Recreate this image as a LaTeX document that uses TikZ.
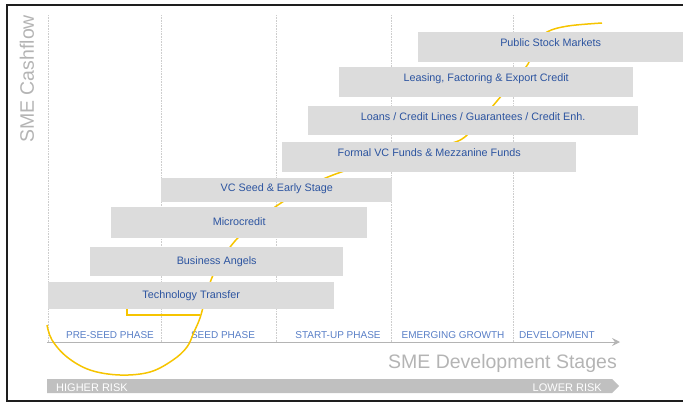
\documentclass[tikz,border=0pt]{standalone}
\usepackage{fontspec}
\setmainfont{Liberation Sans}
\usetikzlibrary{arrows.meta}
\definecolor{boxgray}{RGB}{220,220,220}
\definecolor{txtblue}{RGB}{44,84,160}
\definecolor{phblue}{RGB}{88,126,198}
\definecolor{axgray}{RGB}{180,180,180}
\definecolor{gold}{RGB}{246,196,0}
\definecolor{riskgray}{RGB}{192,192,192}
\definecolor{gridgray}{RGB}{205,205,205}
\definecolor{framegray}{RGB}{30,30,30}
\tikzset{
  fin/.style={fill=boxgray, draw=none, inner sep=0pt, text=txtblue,
    font=\fontsize{10.8}{12}\selectfont, anchor=north west,
    text height=7pt, text depth=2pt},
  finmid/.style={fin, text height=5.4pt, text depth=3.6pt},
  finhi/.style={fin, text height=3.9pt, text depth=5.1pt},
  phase/.style={text=phblue, font=\fontsize{10}{12}\selectfont, anchor=base, inner sep=0pt},
  biglab/.style={text=axgray, font=\fontsize{19.5}{22}\selectfont, inner sep=0pt},
  risklab/.style={text=white, font=\fontsize{11}{12}\selectfont, inner sep=0pt},
  grid/.style={gridgray, line width=0.6pt, dash pattern=on 0.8pt off 0.8pt},
  curve/.style={gold, line width=1.5pt},
}
\begin{document}
\begin{tikzpicture}[x=1pt,y=-1pt]
\useasboundingbox (0,0) rectangle (683,402);
% frame
\draw[framegray, line width=2pt] (690,5) -- (7,5) -- (7,401) -- (690,401);
% grid lines
\foreach \gx in {48,161,276,391,513}
  \draw[grid] (\gx,15) -- (\gx,342);
% axis
\coordinate (axs) at (47,342);
\coordinate (axe) at (620,342);
\draw[axgray, line width=0.8pt, -{Stealth[length=8pt,width=8pt,inset=3pt]}] (axs) -- (axe);
% risk bar
\fill[riskgray] (47,379) -- (612,379) -- (619,386) -- (612,393) -- (47,393) -- cycle;
\node[risklab, anchor=base west] (hr) at (56,391) {HIGHER RISK};
\node[risklab, anchor=base east] (lr) at (602,391) {LOWER RISK};
% axis labels
\node[biglab, anchor=base east] (xlab) at (617,368) {SME Development Stages};
\node[biglab, anchor=base west, rotate=90] (ylab) at (34,143) {SME Cashflow};
% phase labels
\node[phase] (p1) at (110,338) {PRE-SEED PHASE};
\node[phase] (p2) at (223,338) {SEED PHASE};
\node[phase] (p3) at (338,338) {START-UP PHASE};
\node[phase] (p4) at (453,338) {EMERGING GROWTH};
\node[phase] (p5) at (557,338) {DEVELOPMENT};
% yellow curve
\draw[curve] plot[smooth, tension=0.6] coordinates {
 (47,325) (52,340) (67,357) (90,370) (120,375) (150,372) (173,360) (187,347)
 (194,332) (200,318) (205,300) (211,280) (220,262) (235,241) (255,222)
 (278,205) (305,188) (333,175) (370,163) (410,153) (440,146) (462,139)
 (480,121) (497,101) (512,83) (528,64) (536,44) (547,32) (568,26) (602,23)};
\draw[curve] (127,309) -- (127,315) -- (200,315);
% financing boxes
\node[fin, minimum width=286pt, minimum height=27pt] (tt) at (48,282) {Technology Transfer};
\node[fin, minimum width=253pt, minimum height=29pt] (ba) at (90,247) {Business Angels};
\node[fin, minimum width=256pt, minimum height=31pt] (mc) at (111,207) {Microcredit};
\node[finmid, minimum width=231pt, minimum height=24pt] (vc) at (161,178) {VC Seed \& Early Stage};
\node[finhi, minimum width=294pt, minimum height=30pt] (fv) at (282,142) {Formal VC Funds \& Mezzanine Funds};
\node[finhi, minimum width=330pt, minimum height=29pt] (lo) at (308,106) {Loans / Credit Lines / Guarantees / Credit Enh.};
\node[finhi, minimum width=294pt, minimum height=30pt] (le) at (339,67) {Leasing, Factoring \& Export Credit};
\node[finhi, minimum width=265pt, minimum height=30pt] (ps) at (418,32) {Public Stock Markets};
\end{tikzpicture}
\end{document}
